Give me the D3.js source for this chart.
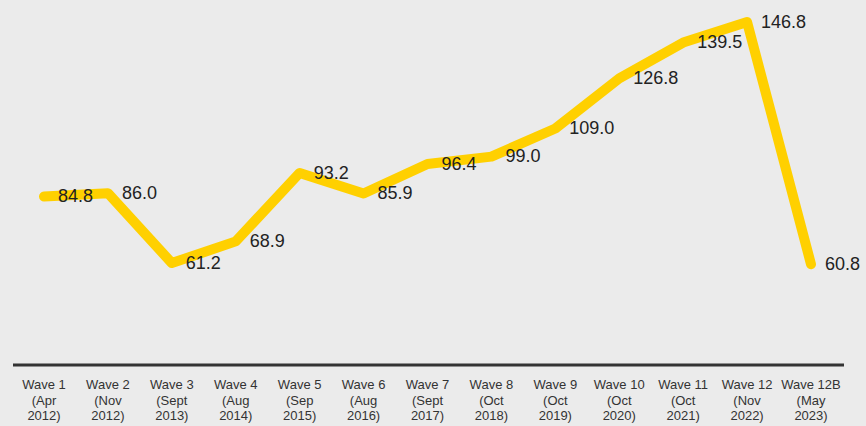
<!DOCTYPE html>
<html>
<head>
<meta charset="utf-8">
<script src="https://cdn.jsdelivr.net/npm/d3@7"></script>
<style>
  html, body { margin: 0; padding: 0; background: #ebebeb; }
  svg { display: block; }
</style>
</head>
<body>
<svg id="chart" width="866" height="426"></svg>
<script>
// Survey waves (x-axis labels, one line per row)
const waves = ["Wave 1", "Wave 2", "Wave 3", "Wave 4", "Wave 5", "Wave 6", "Wave 7",
               "Wave 8", "Wave 9", "Wave 10", "Wave 11", "Wave 12", "Wave 12B"];
const waveDates = ["(Apr", "(Nov", "(Sept", "(Aug", "(Sep", "(Aug", "(Sept",
                   "(Oct", "(Oct", "(Oct", "(Oct", "(Nov", "(May"];
const waveYears = ["2012)", "2012)", "2013)", "2014)", "2015)", "2016)", "2017)",
                   "2018)", "2019)", "2020)", "2021)", "2022)", "2023)"];
// Index value for each wave
const values = [84.8, 86.0, 61.2, 68.9, 93.2, 85.9, 96.4, 99.0, 109.0, 126.8, 139.5, 146.8, 60.8];

const svg = d3.select("#chart");

const x = d3.scalePoint()
  .domain(waves)
  .range([44, 811]);

const y = d3.scaleLinear()
  .domain([25, 150])
  .range([365, 13]);

// Baseline axis
svg.append("line")
  .attr("x1", 13).attr("x2", 844)
  .attr("y1", 365).attr("y2", 365)
  .attr("stroke", "#333")
  .attr("stroke-width", 3);

// Category labels, three rows each
const tick = svg.append("g")
  .attr("font-family", "Liberation Sans, Arial, sans-serif")
  .attr("font-size", 13)
  .attr("fill", "#333")
  .attr("text-anchor", "middle")
  .selectAll("text")
  .data(waves)
  .join("text")
  .attr("x", d => x(d))
  .attr("y", 389);
tick.append("tspan").attr("x", d => x(d)).attr("dy", 0).text(d => d);
tick.append("tspan").attr("x", d => x(d)).attr("dy", 15.5).text((d, i) => waveDates[i]);
tick.append("tspan").attr("x", d => x(d)).attr("dy", 15.5).text((d, i) => waveYears[i]);

// Trend line
const line = d3.line()
  .x((d, i) => x(waves[i]))
  .y(d => y(d));

svg.append("path")
  .datum(values)
  .attr("d", line)
  .attr("fill", "none")
  .attr("stroke", "#ffd000")
  .attr("stroke-width", 10)
  .attr("stroke-linecap", "round")
  .attr("stroke-linejoin", "round");

// Value labels to the right of each point
svg.append("g")
  .attr("font-family", "Liberation Sans, Arial, sans-serif")
  .attr("font-size", 18)
  .attr("fill", "#222")
  .selectAll("text")
  .data(values)
  .join("text")
  .attr("x", (d, i) => x(waves[i]) + 14)
  .attr("y", d => y(d) + 1)
  .attr("dominant-baseline", "middle")
  .text(d => d.toFixed(1));
</script>
</body>
</html>
